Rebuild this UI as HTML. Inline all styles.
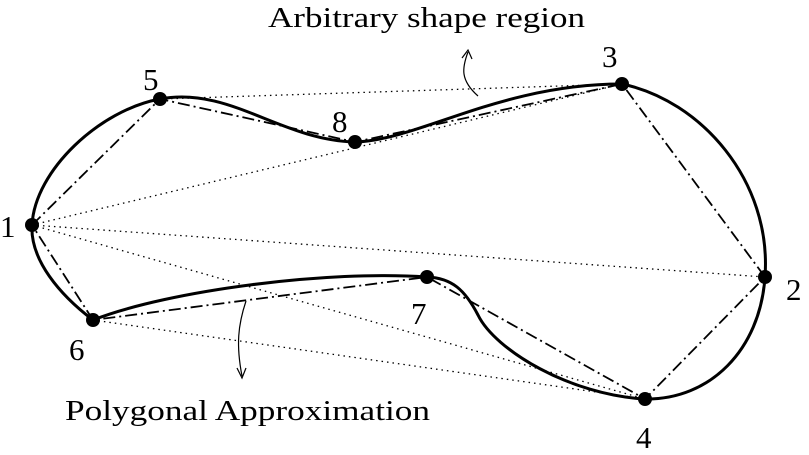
<!DOCTYPE html>
<html><head><meta charset="utf-8"><style>
html,body{margin:0;padding:0;background:#fff;width:809px;height:455px;overflow:hidden}
text{font-family:"Liberation Serif",serif;fill:#000}
</style></head><body>
<svg width="809" height="455" viewBox="0 0 809 455">
<g stroke="#000" stroke-width="1.3" stroke-dasharray="1.5,4" fill="none">
<line x1="160" y1="99" x2="622" y2="84"/>
<line x1="32" y1="225" x2="622" y2="84"/>
<line x1="32" y1="225" x2="765" y2="277"/>
<line x1="32" y1="225" x2="645" y2="399"/>
<line x1="93" y1="320" x2="645" y2="399"/>
</g>
<polygon points="32,225 160,99 355,142 622,84 765,277 645,399 427,277 93,320" fill="none" stroke="#000" stroke-width="1.8" stroke-dasharray="12,4,2,4"/>
<path fill="none" stroke="#000" stroke-width="3"
d="M32,225 C35,170 100,110 160,99 C230,86 280,140 355,142 C420,140 500,84 622,84 C700,100 772,180 765,277 C760,350 710,400 645,399 C570,395 495,350 478,315 C465,290 452,278 427,277 C330,270 170,290 93,320 C60,295 30,260 32,225 Z"/>
<g fill="#000">
<circle cx="32" cy="225" r="7"/><circle cx="765" cy="277" r="7"/><circle cx="622" cy="84" r="7"/><circle cx="645" cy="399" r="7"/>
<circle cx="160" cy="99" r="7"/><circle cx="93" cy="320" r="7"/><circle cx="427" cy="277" r="7"/><circle cx="355" cy="142" r="7"/>
</g>
<g font-size="31">
<text x="0" y="237">1</text><text x="786" y="300">2</text><text x="602" y="67">3</text><text x="636" y="448">4</text>
<text x="143" y="90">5</text><text x="69" y="360">6</text><text x="411" y="324">7</text><text x="332" y="132">8</text>
</g>
<g fill="none" stroke="#000" stroke-width="1.2">
<path d="M478,96 C460,80 462,68 468,52"/><path d="M462,58 L468,50 L472,59"/>
<path d="M246,301 C238,325 236,345 242,376"/><path d="M237,368 L242,378 L246,368"/>
</g>
<text x="268" y="27" font-size="29" textLength="317" lengthAdjust="spacingAndGlyphs">Arbitrary shape region</text>
<text x="65" y="420" font-size="29" textLength="365" lengthAdjust="spacingAndGlyphs">Polygonal Approximation</text>
</svg>
</body></html>
